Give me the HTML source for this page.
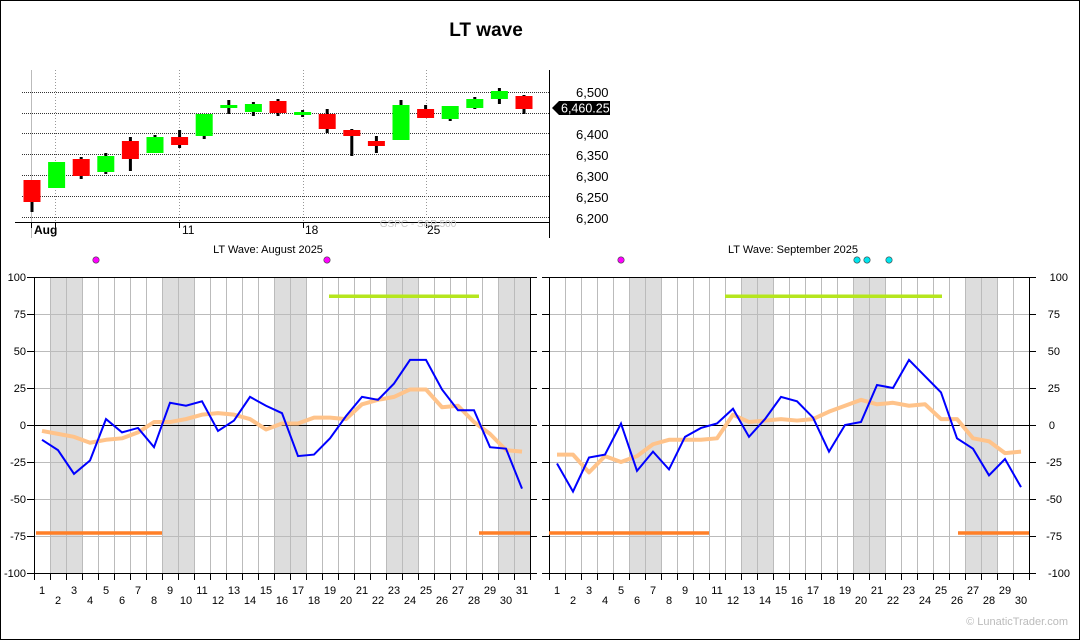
<!DOCTYPE html>
<html><head><meta charset="utf-8"><style>
body{margin:0;background:#fff}
svg{display:block;font-family:"Liberation Sans",Arial,sans-serif}
</style></head><body>
<svg id="s" width="1080" height="640" xmlns="http://www.w3.org/2000/svg">
<rect x="0.5" y="0.5" width="1079" height="639" fill="#fff" stroke="#000"/>
<g id="g"></g>
<text x="486" y="36" font-size="19" font-weight="bold" text-anchor="middle">LT wave</text>
<g font-size="13" fill="#000">
<text x="576" y="97">6,500</text><text x="576" y="139">6,400</text><text x="576" y="160">6,350</text>
<text x="576" y="181">6,300</text><text x="576" y="202">6,250</text><text x="576" y="223">6,200</text>
</g>
<text x="418" y="227" font-size="10" fill="#c8c8c8" text-anchor="middle">GSPC - S&amp;P 500</text>
<g font-size="12"><text x="34" y="234" font-weight="bold">Aug</text><text x="182" y="234">11</text><text x="305" y="234">18</text><text x="427" y="234">25</text></g>
<polygon points="552,108 559,101 610,101 610,115 559,115" fill="#000"/>
<text x="561" y="112.5" font-size="12.5" fill="#fff">6,460.25</text>
<text x="268" y="253" font-size="11" text-anchor="middle">LT Wave: August 2025</text>
<text x="793" y="253" font-size="11" text-anchor="middle">LT Wave: September 2025</text>
<g font-size="11" text-anchor="end">
<text x="26" y="281">100</text><text x="26" y="318">75</text><text x="26" y="355">50</text><text x="26" y="392">25</text><text x="26" y="429">0</text><text x="26" y="466">-25</text><text x="26" y="503">-50</text><text x="26" y="540">-75</text><text x="26" y="577">-100</text>
</g>
<g font-size="11" text-anchor="end">
<text x="1068" y="281">100</text><text x="1060" y="318">75</text><text x="1060" y="355">50</text><text x="1060" y="392">25</text><text x="1055" y="429">0</text><text x="1062" y="466">-25</text><text x="1062" y="503">-50</text><text x="1062" y="540">-75</text><text x="1070" y="577">-100</text>
</g>
<g font-size="11" text-anchor="middle">
<text x="42" y="594">1</text><text x="58" y="604">2</text><text x="74" y="594">3</text><text x="90" y="604">4</text><text x="106" y="594">5</text><text x="122" y="604">6</text><text x="138" y="594">7</text><text x="154" y="604">8</text><text x="170" y="594">9</text><text x="186" y="604">10</text><text x="202" y="594">11</text><text x="218" y="604">12</text><text x="234" y="594">13</text><text x="250" y="604">14</text><text x="266" y="594">15</text><text x="282" y="604">16</text><text x="298" y="594">17</text><text x="314" y="604">18</text><text x="330" y="594">19</text><text x="346" y="604">20</text><text x="362" y="594">21</text><text x="378" y="604">22</text><text x="394" y="594">23</text><text x="410" y="604">24</text><text x="426" y="594">25</text><text x="442" y="604">26</text><text x="458" y="594">27</text><text x="474" y="604">28</text><text x="490" y="594">29</text><text x="506" y="604">30</text><text x="522" y="594">31</text>
<text x="557" y="594">1</text><text x="573" y="604">2</text><text x="589" y="594">3</text><text x="605" y="604">4</text><text x="621" y="594">5</text><text x="637" y="604">6</text><text x="653" y="594">7</text><text x="669" y="604">8</text><text x="685" y="594">9</text><text x="701" y="604">10</text><text x="717" y="594">11</text><text x="733" y="604">12</text><text x="749" y="594">13</text><text x="765" y="604">14</text><text x="781" y="594">15</text><text x="797" y="604">16</text><text x="813" y="594">17</text><text x="829" y="604">18</text><text x="845" y="594">19</text><text x="861" y="604">20</text><text x="877" y="594">21</text><text x="893" y="604">22</text><text x="909" y="594">23</text><text x="925" y="604">24</text><text x="941" y="594">25</text><text x="957" y="604">26</text><text x="973" y="594">27</text><text x="989" y="604">28</text><text x="1005" y="594">29</text><text x="1021" y="604">30</text>
</g>
<text x="1068" y="625" font-size="11" fill="#bbb" text-anchor="end">© LunaticTrader.com</text>
</svg>
<script>
var g=document.getElementById('g'),h='';
function L(x1,y1,x2,y2,c,w,d){h+='<line x1="'+x1+'" y1="'+y1+'" x2="'+x2+'" y2="'+y2+'" stroke="'+c+'" stroke-width="'+(w||1)+'"'+(d?' stroke-dasharray="'+d+'"':'')+'/>';}
function R(x,y,w,hh,c){h+='<rect x="'+x+'" y="'+y+'" width="'+w+'" height="'+hh+'" fill="'+c+'"/>';}
// top chart
[92,113,133,154,175,196,217].forEach(function(y){L(22,y+.5,549,y+.5,'#333',1,'1,1');});
[55,179,303,426].forEach(function(x){L(x+.5,70,x+.5,222,'#999',1,'1,2');});
L(31.5,70,31.5,238,'#bbb');
L(15,222.5,549,222.5,'#000');L(549.5,70,549.5,238,'#000');
[31,55,179,303,426].forEach(function(x){L(x+.5,222,x+.5,228,'#000');});
var C=[['r',180,202,180,212],['g',162,188,162,188],['r',159,176,157,179],['g',156,172,153,174],['r',141,159,137,171],['g',137,153,135,153],['r',137,145,130,148],['g',114,136,114,139],['g',105,108,100,114],['g',104,112,102,116],['r',101,113,99,116],['g',112,115,110,117],['r',114,129,109,133],['r',130,136,129,156],['r',141,146,136,153],['g',105,140,100,140],['r',109,118,105,118],['g',106,119,106,121],['g',99,108,97,109],['g',91,99,88,104],['r',96,109,95,114]];
C.forEach(function(c,i){var x=32+i*24.6;L(x,c[3],x,c[4],'#000',3);R(x-8.5,c[1],17,Math.max(c[2]-c[1],3),c[0]=='r'?'#ff0000':'#00ff00');});
// bottom panels
function Y(v){return 425-v*1.48;}
function panel(x0,n,we,blue,orn,gr,orl,dots){
 we.forEach(function(d){R(x0+(d-1)*16,277,16,296,'#dddddd');});
 for(var i=1;i<n;i++)L(x0+i*16+.5,277,x0+i*16+.5,573,'#bbb');
 for(var v=-75;v<=75;v+=25)if(v)L(x0,Y(v)+.5,x0+n*16,Y(v)+.5,'#bbb');
 L(x0,425.5,x0+n*16,425.5,'#000');
 L(x0,277.5,x0+n*16,277.5,'#000');L(x0,573.5,x0+n*16,573.5,'#000');
 L(x0+.5,277,x0+.5,580,'#000');L(x0+n*16+.5,277,x0+n*16+.5,580,'#000');
 for(var i=0;i<=n;i++)L(x0+i*16+.5,573,x0+i*16+.5,580,'#000');
 for(var v=-100;v<=100;v+=25){L(x0-7,Y(v)+.5,x0,Y(v)+.5,'#000');L(x0+n*16,Y(v)+.5,x0+n*16+7,Y(v)+.5,'#000');}
 L(gr[0],Y(87),gr[1],Y(87),'#b5e61d',3.5);
 orl.forEach(function(s){L(s[0],Y(-73),s[1],Y(-73),'#ff7f27',3.5);});
 var p=orn.map(function(v,i){return (x0+8+i*16)+','+Y(v)}).join(' ');
 h+='<polyline points="'+p+'" fill="none" stroke="#ffc38a" stroke-width="4" stroke-linejoin="round"/>';
 p=blue.map(function(v,i){return (x0+8+i*16)+','+Y(v)}).join(' ');
 h+='<polyline points="'+p+'" fill="none" stroke="#0000ff" stroke-width="2"/>';
 dots.forEach(function(d){h+='<circle cx="'+d[0]+'" cy="260" r="3.2" fill="'+d[1]+'" stroke="#444" stroke-width=".6"/>';});
}
panel(34,31,[2,3,9,10,16,17,23,24,30,31],
[-10,-17,-33,-24,4,-5,-2,-15,15,13,16,-4,3,19,13,8,-21,-20,-9,6,19,17,28,44,44,24,10,10,-15,-16,-43],
[-4,-6,-8,-12,-10,-9,-5,2,2,4,7,8,7,4,-3,1,1,5,5,4,14,17,19,24,24,12,13,2,-6,-17,-18],
[329,479],[[36,162],[479,530]],[[96,'#ff00ff'],[327,'#ff00ff']]);
panel(549,30,[6,7,13,14,20,21,27,28],
[-26,-45,-22,-20,1,-31,-18,-30,-8,-2,1,11,-8,4,19,16,5,-18,0,2,27,25,44,33,22,-9,-16,-34,-23,-42],
[-20,-20,-32,-21,-25,-21,-13,-10,-10,-10,-9,7,2,3,4,3,4,9,13,17,14,15,13,14,4,4,-9,-11,-19,-18],
[725,942],[[549,709],[958,1029]],[[621,'#ff00ff'],[857,'#00e5ee'],[867,'#00e5ee'],[889,'#00e5ee']]);
g.innerHTML=h;
</script>
</body></html>
